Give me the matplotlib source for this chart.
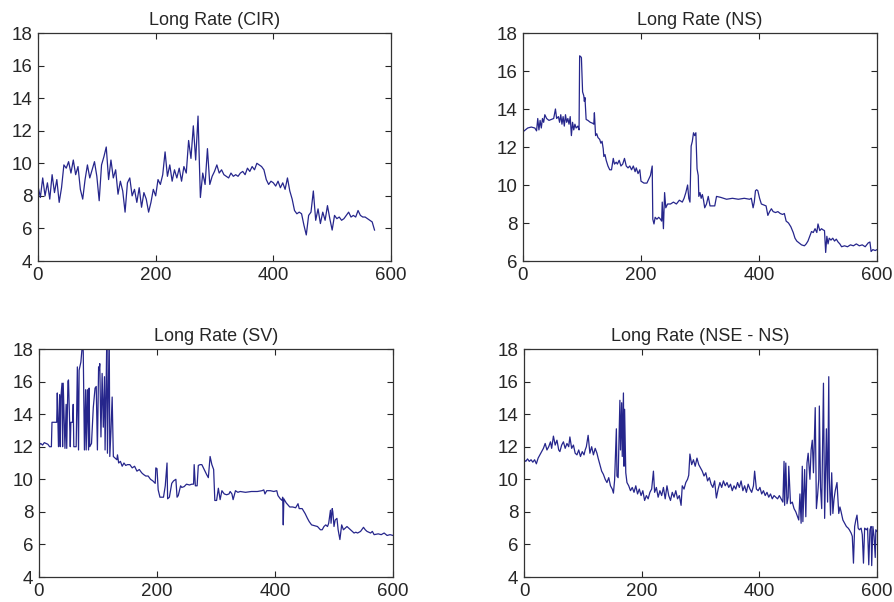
import numpy as np
import matplotlib
matplotlib.use("Agg")
import matplotlib.pyplot as plt

plt.rcParams['font.family'] = ['Liberation Sans', 'DejaVu Sans']

# ---- Long rate, CIR model (sampled every 4 observations) ----
cir_step = 4
cir_v = [8.6, 7.9, 9.1, 8.0, 8.8, 7.8, 9.3, 8.2, 9.0, 7.6, 8.5, 9.9, 9.7, 10.1, 9.4, 10.2,
         9.3, 9.8, 8.4, 7.8, 9.0, 9.9, 9.1, 9.6, 10.1, 9.2, 7.7, 9.9, 10.4, 11.0, 9.0, 10.2,
         9.1, 9.6, 8.1, 8.9, 8.3, 7.0, 8.8, 9.1, 8.0, 8.4, 7.6, 8.5, 7.3, 8.2, 7.8, 7.0,
         7.6, 8.4, 8.0, 9.0, 8.7, 9.3, 10.7, 9.2, 9.9, 8.9, 9.6, 9.1, 9.7, 8.9, 9.8, 9.4,
         11.4, 10.3, 12.3, 10.2, 12.9, 7.9, 9.4, 8.7, 10.9, 8.7, 9.2, 9.5, 9.9, 9.4, 9.6, 9.3,
         9.2, 9.1, 9.4, 9.2, 9.3, 9.2, 9.4, 9.5, 9.3, 9.7, 9.5, 9.8, 9.6, 10.0, 9.9, 9.8,
         9.6, 9.0, 8.7, 8.9, 8.8, 8.6, 8.9, 8.5, 8.8, 8.4, 9.1, 8.3, 7.8, 7.1, 6.9, 7.0,
         6.9, 6.2, 5.6, 6.8, 7.0, 8.3, 6.5, 7.2, 6.3, 7.0, 6.5, 7.4, 6.6, 5.9, 6.8, 6.6,
         6.7, 6.5, 6.6, 6.8, 7.0, 6.7, 6.8, 6.7, 7.1, 6.8, 6.7, 6.7, 6.6, 6.5, 6.4, 5.9]

# ---- Long rate, NS model ----
ns_t = [0, 4, 8, 14, 20, 23, 25, 27, 29, 31, 33, 35, 37, 40, 44, 48, 52, 55, 57, 60,
        62, 64, 66, 68, 70, 72, 74, 76, 78, 80, 82, 84, 86, 88, 90, 93, 95, 96, 98, 99,
        101, 103, 104, 105, 107, 110, 114, 118, 120, 121, 123, 125, 127, 130, 132, 134, 136, 137, 139, 141,
        144, 147, 150, 153, 155, 158, 160, 163, 166, 169, 172, 175, 178, 181, 184, 187, 190, 192, 195, 198,
        200, 205, 210, 213, 216, 219, 220, 222, 224, 227, 230, 233, 235, 236, 238, 240, 242, 245, 250, 255,
        260, 265, 270, 273, 276, 279, 281, 283, 285, 287, 289, 291, 293, 295, 297, 298, 300, 302, 304, 306,
        308, 311, 314, 317, 321, 325, 328, 335, 345, 355, 365, 375, 384, 387, 390, 392, 394, 396, 398, 401,
        404, 408, 412, 415, 418, 421, 424, 428, 432, 436, 440, 443, 446, 450, 454, 458, 461, 464, 468, 472,
        477, 480, 483, 486, 489, 492, 495, 498, 500, 503, 506, 508, 511, 513, 515, 517, 519, 522, 525, 528,
        531, 534, 537, 540, 545, 550, 555, 560, 565, 570, 575, 580, 585, 588, 590, 593, 597, 600]
ns_v = [12.8, 12.9, 13.0, 13.05, 13.0, 12.85, 13.5, 12.9, 13.4, 13.0, 13.5, 13.3, 13.7, 13.5, 13.4, 13.45, 13.5, 14.0, 13.5, 13.6,
        13.3, 13.7, 13.2, 13.6, 13.1, 13.7, 13.3, 13.5, 13.2, 13.6, 12.6, 13.3, 12.9, 13.2, 13.0, 13.1, 12.9, 16.8, 16.75, 16.7,
        14.9, 14.7, 14.4, 14.6, 13.45, 13.4, 13.3, 13.25, 13.2, 13.8, 12.6, 12.7, 12.5, 12.4, 12.2, 12.3, 11.9, 11.5, 11.6, 11.3,
        11.0, 10.8, 10.8, 11.4, 11.1, 11.2, 11.1, 11.3, 11.0, 11.1, 11.4, 11.0, 10.9, 11.0, 10.8, 11.0, 10.7, 10.9, 10.6, 10.8,
        10.2, 10.1, 10.1, 10.3, 10.5, 11.0, 8.2, 7.95, 8.3, 8.2, 8.3, 8.2, 8.1, 9.1, 7.7, 9.6, 8.8, 9.0, 9.0, 9.1,
        9.0, 9.2, 9.1, 9.3, 9.6, 10.0, 9.3, 9.1, 12.05, 12.3, 12.75, 12.6, 12.75, 10.85, 10.5, 9.4, 9.6, 9.3, 9.5, 9.2,
        8.8, 9.0, 9.4, 8.9, 8.9, 8.9, 9.4, 9.35, 9.25, 9.3, 9.25, 9.3, 9.25, 9.3, 8.8, 9.1, 9.7, 9.75, 9.7, 9.3,
        9.0, 8.95, 8.9, 8.4, 8.6, 8.75, 8.6, 8.55, 8.6, 8.5, 8.45, 8.5, 8.1, 8.0, 7.8, 7.5, 7.2, 7.05, 6.95, 6.85,
        6.8, 6.9, 7.05, 7.3, 7.55, 7.5, 7.7, 7.5, 7.95, 7.6, 7.7, 7.65, 7.6, 6.45, 7.3, 6.9, 7.2, 7.1, 7.2, 7.05,
        7.15, 7.0, 6.9, 6.75, 6.8, 6.75, 6.85, 6.8, 6.9, 6.8, 6.85, 6.75, 6.95, 7.0, 6.5, 6.6, 6.55, 6.6]

# ---- Long rate, SV model ----
sv_t = [0, 3, 6, 9, 12, 15, 18, 21, 22, 30, 31, 33, 35, 36, 37, 39, 40, 41, 44, 46,
        47, 49, 50, 53, 54, 57, 58, 59, 63, 65, 67, 68, 71, 74, 75, 77, 79, 80, 82, 84,
        85, 86, 89, 92, 95, 97, 99, 101, 102, 103, 105, 107, 109, 111, 112, 114, 115, 116, 119, 120,
        122, 124, 126, 129, 132, 133, 135, 138, 141, 144, 147, 150, 154, 158, 162, 166, 170, 174, 177, 181,
        185, 189, 193, 197, 198, 200, 202, 205, 211, 214, 217, 218, 221, 225, 228, 232, 234, 236, 238, 240,
        242, 246, 250, 255, 259, 262, 263, 265, 268, 270, 273, 276, 280, 284, 287, 290, 293, 296, 298, 301,
        304, 307, 310, 314, 318, 322, 324, 327, 329, 333, 337, 341, 350, 360, 370, 378, 381, 383, 386, 392,
        398, 403, 405, 409, 412, 413, 414, 415, 419, 425, 430, 435, 439, 441, 446, 451, 455, 458, 462, 467,
        472, 477, 480, 483, 486, 489, 491, 494, 495, 497, 498, 500, 502, 505, 507, 510, 513, 516, 519, 522,
        525, 528, 531, 534, 537, 540, 545, 550, 553, 556, 562, 565, 568, 575, 580, 585, 590, 595, 600]
sv_v = [12.1, 12.2, 12.1, 12.25, 12.2, 12.15, 12.0, 12.0, 13.5, 13.5, 15.3, 12.0, 15.2, 12.0, 15.0, 15.9, 12.0, 15.9, 11.9, 14.6,
        11.9, 16.0, 16.1, 12.0, 13.5, 13.5, 14.6, 12.0, 12.0, 16.9, 11.8, 16.7, 17.2, 18.5, 17.8, 11.8, 15.5, 11.8, 15.5, 11.8,
        15.6, 12.0, 12.2, 14.4, 15.6, 15.7, 11.8, 16.9, 16.7, 17.1, 12.6, 16.5, 13.2, 16.3, 11.8, 16.3, 19.0, 11.6, 19.0, 11.4,
        13.0, 15.05, 11.4, 11.3, 11.2, 11.5, 11.0, 11.1, 10.8, 11.0, 10.85, 10.9, 10.9, 10.7, 10.8, 10.5, 10.6, 10.4, 10.3, 10.2,
        10.2, 10.0, 9.9, 9.75, 10.7, 10.65, 9.35, 8.9, 8.9, 9.6, 11.0, 8.8, 8.9, 9.75, 9.9, 10.0, 8.9, 9.0, 9.3, 9.6,
        9.5, 9.55, 9.7, 9.65, 9.7, 9.7, 10.9, 9.6, 9.6, 10.85, 10.9, 10.9, 10.6, 10.3, 10.1, 11.4, 10.9, 10.6, 8.7, 8.7,
        9.45, 8.75, 9.3, 9.1, 9.05, 9.1, 9.25, 9.1, 8.75, 9.3, 9.2, 9.25, 9.2, 9.25, 9.25, 9.3, 9.35, 9.1, 9.3, 9.3,
        9.25, 9.3, 9.0, 8.8, 8.7, 8.9, 7.2, 8.8, 8.55, 8.3, 8.3, 8.25, 8.5, 8.2, 8.2, 7.9, 7.6, 7.4, 7.2, 7.15,
        7.1, 6.9, 6.9, 7.1, 7.2, 7.1, 7.3, 8.1, 7.3, 8.2, 8.0, 7.1, 7.5, 7.6, 6.9, 6.3, 7.2, 6.9, 7.0, 7.1,
        7.0, 6.9, 6.8, 6.7, 6.75, 6.7, 6.8, 7.05, 6.9, 6.8, 6.7, 6.8, 6.6, 6.65, 6.6, 6.7, 6.55, 6.6, 6.55]

# ---- Long rate, NSE - NS ----
nse_t = [0, 3, 6, 9, 12, 15, 18, 21, 24, 27, 30, 33, 36, 39, 42, 45, 47, 50, 53, 56,
         59, 61, 64, 67, 70, 73, 76, 78, 81, 84, 87, 90, 93, 96, 99, 102, 104, 106, 109, 112,
         115, 118, 121, 124, 126, 129, 132, 135, 138, 141, 144, 147, 150, 152, 154, 157, 158, 160, 163, 164,
         166, 167, 169, 170, 171, 173, 175, 178, 181, 184, 187, 190, 193, 196, 199, 202, 205, 208, 211, 214,
         217, 220, 222, 225, 228, 231, 234, 237, 240, 243, 246, 249, 252, 255, 258, 261, 264, 267, 269, 272,
         275, 278, 280, 282, 285, 288, 291, 294, 297, 300, 303, 306, 309, 312, 315, 318, 321, 324, 327, 330,
         333, 336, 339, 342, 345, 348, 351, 354, 357, 360, 363, 366, 369, 372, 375, 378, 381, 384, 387, 390,
         392, 395, 398, 401, 404, 407, 410, 413, 416, 419, 422, 425, 428, 431, 434, 437, 440, 442, 443, 445,
         447, 449, 450, 453, 456, 459, 462, 465, 467, 469, 471, 473, 474, 477, 479, 481, 483, 486, 488, 490,
         492, 495, 497, 499, 501, 502, 504, 506, 509, 511, 514, 516, 518, 519, 521, 523, 525, 527, 529, 532,
         535, 537, 539, 542, 545, 548, 551, 553, 556, 558, 560, 562, 564, 566, 568, 570, 573, 575, 577, 579,
         582, 584, 586, 588, 590, 591, 593, 595, 597, 598, 600]
nse_v = [11.2, 11.1, 11.25, 11.1, 11.2, 11.05, 11.2, 10.95, 11.3, 11.5, 11.7, 11.9, 12.2, 11.8, 12.0, 12.3, 11.9, 12.65, 12.1, 12.4,
         11.8, 11.7, 12.1, 12.3, 11.9, 12.2, 12.0, 12.6, 11.9, 12.1, 11.6, 11.5, 11.8, 11.4, 11.7, 11.5, 11.8, 12.0, 12.7, 11.6,
         12.0, 11.5, 11.9, 11.6, 11.3, 10.9, 10.5, 10.3, 10.0, 9.8, 10.1, 9.6, 9.4, 9.15, 9.95, 13.1, 10.2, 10.1, 14.85, 11.8,
         14.7, 11.4, 15.3, 10.8, 14.3, 10.4, 9.8, 9.6, 9.3, 9.5, 9.2, 9.6, 9.1, 9.4, 9.0, 9.3, 8.7, 9.0, 8.8, 9.2,
         9.4, 10.5, 9.2, 9.5, 8.9, 9.3, 9.0, 9.5, 8.8, 9.6, 9.0, 8.7, 9.2, 8.9, 9.3, 8.8, 9.0, 8.4, 9.6, 9.4,
         9.8, 10.0, 10.25, 11.55, 10.9, 11.2, 10.8, 11.3, 10.9, 10.7, 10.5, 10.2, 10.4, 9.9, 10.1, 9.7, 9.5, 9.9, 8.85, 9.4,
         9.8, 9.5, 9.9, 9.6, 9.8, 9.5, 9.7, 9.3, 9.6, 9.4, 9.8, 9.5, 9.9, 9.3, 9.6, 9.2, 9.7, 9.4, 9.2, 9.6,
         10.5, 9.4, 9.3, 9.5, 9.1, 9.3, 9.0, 9.2, 8.9, 9.1, 8.8, 9.0, 8.9, 8.8, 9.0, 8.8, 8.6, 11.1, 8.4, 11.0,
         8.5, 8.9, 10.8, 8.5, 8.6, 8.2, 8.0, 7.7, 7.5, 9.1, 7.3, 10.8, 7.4, 10.6, 7.7, 11.0, 11.6, 10.0, 11.8, 12.4,
         10.4, 14.4, 8.2, 9.0, 10.0, 14.5, 9.5, 8.2, 15.9, 7.6, 13.1, 8.6, 16.3, 10.1, 7.8, 10.4, 7.9, 8.8, 9.3, 9.8,
         7.9, 8.3, 8.0, 7.5, 7.3, 7.1, 7.0, 6.9, 6.7, 6.5, 4.85, 7.1, 7.5, 7.8, 7.0, 6.9, 7.0, 6.6, 4.85, 7.0,
         6.9, 7.0, 4.75, 6.9, 7.1, 4.7, 7.1, 6.5, 5.2, 6.9, 6.8]

titles = ["Long Rate (CIR)", "Long Rate (NS)", "Long Rate (SV)", "Long Rate (NSE - NS)"]
x_ticks = [0, 200, 400, 600]

W, H = 895, 602
fig = plt.figure(figsize=(W / 100, H / 100), dpi=100)

# axes boxes in pixels: (left, top, right, bottom)
boxes = [(38, 33, 391, 261), (523, 33, 877, 261),
         (39, 349, 393, 577), (524, 349, 877, 577)]

series = [
    (np.arange(len(cir_v)) * cir_step, np.array(cir_v)),
    (np.array(ns_t), np.array(ns_v)),
    (np.array(sv_t), np.array(sv_v)),
    (np.array(nse_t), np.array(nse_v)),
]
ylims = [(4, 18), (6, 18), (4, 18), (4, 18)]

line_color = "#26268c"
text_color = "#262626"

for (l, t, r, b), (x, y), title, (y0, y1) in zip(boxes, series, titles, ylims):
    ax = fig.add_axes([l / W, 1 - b / H, (r - l) / W, (b - t) / H])
    ax.plot(x, y, color=line_color, linewidth=0.9)
    ax.set_xlim(0, 600)
    ax.set_ylim(y0, y1)
    ax.set_xticks(x_ticks)
    ax.set_yticks(np.arange(y0, y1 + 1, 2))
    ax.tick_params(direction="in", length=4, width=0.8, top=True, right=True,
                   labelsize=13.5, colors=text_color, pad=4)
    for s in ax.spines.values():
        s.set_linewidth(0.9)
        s.set_color("#333333")
    ax.set_title(title, fontsize=13, color=text_color, pad=6)

fig.savefig("out.png", dpi=100, facecolor="white")
